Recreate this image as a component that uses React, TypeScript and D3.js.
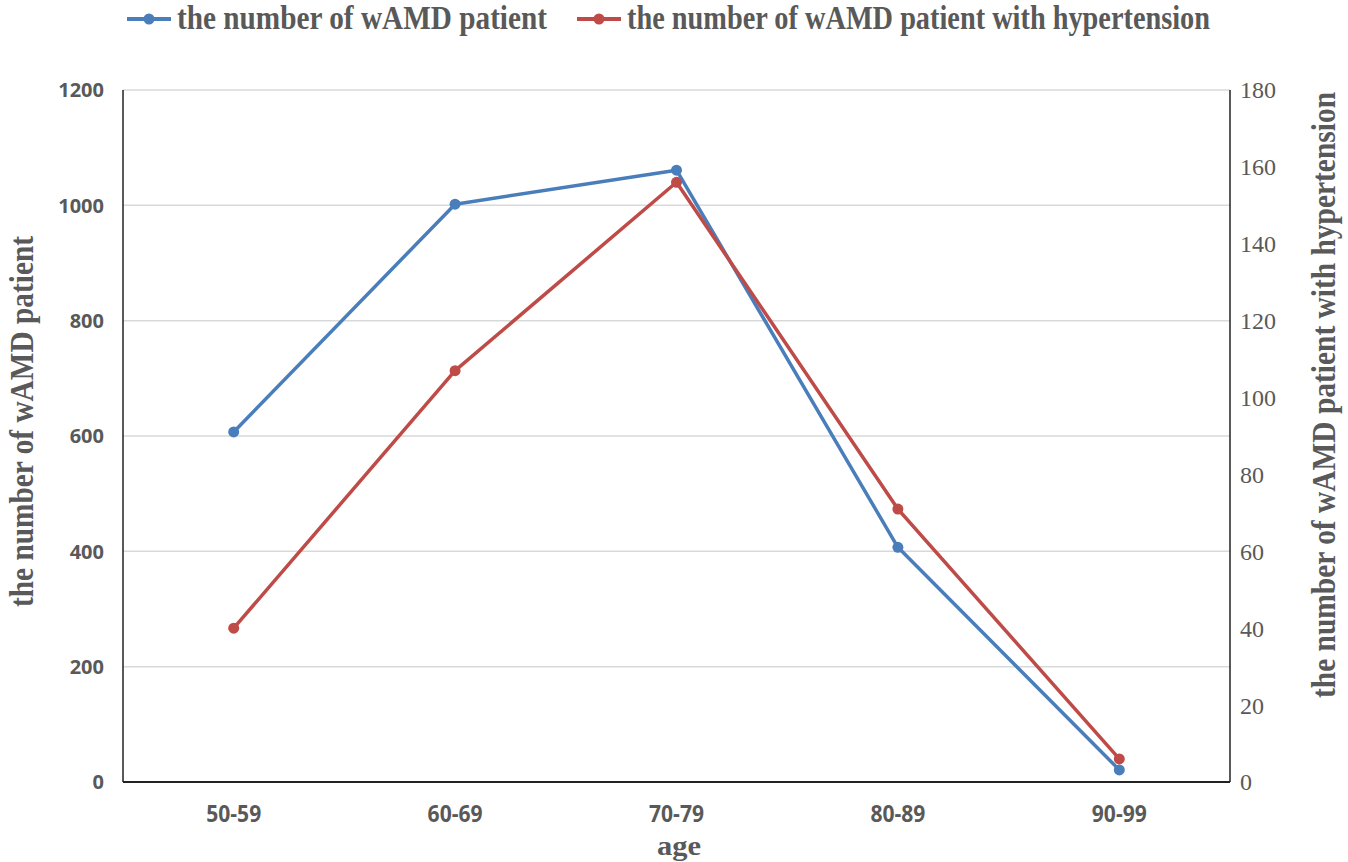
import { scaleLinear, scalePoint, line } from "d3";

const width = 1348;
const height = 862;

const ages = ["50-59", "60-69", "70-79", "80-89", "90-99"];
const patients = [607, 1002, 1061, 407, 21];
const hypertension = [40, 107, 156, 71, 6];
const leftTicks = [0, 200, 400, 600, 800, 1000, 1200];
const rightTicks = [0, 20, 40, 60, 80, 100, 120, 140, 160, 180];

const blue = "#4a7ebb";
const red = "#be4b48";
const gray = "#595959";

const plot = { left: 123, right: 1230, top: 90, bottom: 782 };

const serif = "'Liberation Serif', 'Times New Roman', serif";

const App = () => {
  const x = scalePoint<string>()
    .domain(ages)
    .range([plot.left, plot.right])
    .padding(0.5);
  const yLeft = scaleLinear().domain([0, 1200]).range([plot.bottom, plot.top]);
  const yRight = scaleLinear().domain([0, 180]).range([plot.bottom, plot.top]);

  const blueLine = line<number>()
    .x((_, i) => x(ages[i])!)
    .y((d) => yLeft(d));
  const redLine = line<number>()
    .x((_, i) => x(ages[i])!)
    .y((d) => yRight(d));

  const legend = [
    { label: "the number of wAMD patient", color: blue, x0: 127, tx: 177, tl: 370 },
    { label: "the number of wAMD patient with hypertension", color: red, x0: 577, tx: 627, tl: 583 },
  ];

  return (
    <svg
      width={width}
      height={height}
      style={{ position: "absolute", left: 0, top: 0, background: "#fff" }}
    >
      {/* gridlines */}
      {leftTicks.slice(1).map((t) => (
        <line
          key={t}
          x1={plot.left}
          x2={plot.right}
          y1={yLeft(t)}
          y2={yLeft(t)}
          stroke="#d9d9d9"
          strokeWidth={1.5}
        />
      ))}

      {/* axes */}
      <line x1={plot.left} x2={plot.left} y1={plot.top} y2={plot.bottom} stroke="#222" strokeWidth={1.5} />
      <line x1={plot.right} x2={plot.right} y1={plot.top} y2={plot.bottom} stroke="#222" strokeWidth={1.5} />
      <line x1={plot.left} x2={plot.right} y1={plot.bottom} y2={plot.bottom} stroke="#222" strokeWidth={2} />

      {/* left ticks */}
      {leftTicks.map((t) => (
        <text
          key={t}
          x={104}
          y={yLeft(t)}
          dy="0.36em"
          textAnchor="end"
          fontFamily="'Open Sans', sans-serif"
          fontWeight="bold"
          fontSize={20}
          fill={gray}
        >
          {t}
        </text>
      ))}

      {/* right ticks */}
      {rightTicks.map((t) => (
        <text
          key={t}
          x={1240}
          y={yRight(t)}
          dy="0.35em"
          fontFamily={serif}
          fontSize={24}
          fill={gray}
        >
          {t}
        </text>
      ))}

      {/* x ticks */}
      {ages.map((a) => (
        <text
          key={a}
          x={x(a)}
          y={814}
          dy="0.36em"
          textAnchor="middle"
          fontFamily="'Open Sans', sans-serif"
          fontWeight="bold"
          fontSize={23}
          fill={gray}
          textLength={55}
          lengthAdjust="spacingAndGlyphs"
        >
          {a}
        </text>
      ))}

      {/* axis titles */}
      <text
        x={679}
        y={855}
        textAnchor="middle"
        fontFamily={serif}
        fontWeight="bold"
        fontSize={28}
        fill={gray}
        textLength={44}
        lengthAdjust="spacingAndGlyphs"
      >
        age
      </text>
      <text
        transform={`translate(${33}, ${(236 + 607) / 2}) rotate(-90)`}
        textAnchor="middle"
        fontFamily={serif}
        fontWeight="bold"
        fontSize={33}
        fill={gray}
        textLength={371}
        lengthAdjust="spacingAndGlyphs"
      >
        the number of wAMD patient
      </text>
      <text
        transform={`translate(${1335}, ${(92 + 698) / 2}) rotate(-90)`}
        textAnchor="middle"
        fontFamily={serif}
        fontWeight="bold"
        fontSize={33}
        fill={gray}
        textLength={606}
        lengthAdjust="spacingAndGlyphs"
      >
        the number of wAMD patient with hypertension
      </text>

      {/* series */}
      <path d={blueLine(patients)!} fill="none" stroke={blue} strokeWidth={3.5} strokeLinejoin="round" />
      <path d={redLine(hypertension)!} fill="none" stroke={red} strokeWidth={3.5} strokeLinejoin="round" />
      {patients.map((v, i) => (
        <circle key={"b" + i} cx={x(ages[i])} cy={yLeft(v)} r={5.5} fill={blue} />
      ))}
      {hypertension.map((v, i) => (
        <circle key={"r" + i} cx={x(ages[i])} cy={yRight(v)} r={5.5} fill={red} />
      ))}

      {/* legend */}
      {legend.map((l) => (
        <g key={l.label}>
          <line x1={l.x0} x2={l.x0 + 44} y1={19} y2={19} stroke={l.color} strokeWidth={4} />
          <circle cx={l.x0 + 22} cy={19} r={5.5} fill={l.color} />
          <text
            x={l.tx}
            y={29}
            fontFamily={serif}
            fontWeight="bold"
            fontSize={34}
            fill={gray}
            textLength={l.tl}
            lengthAdjust="spacingAndGlyphs"
          >
            {l.label}
          </text>
        </g>
      ))}
    </svg>
  );
};

export default App;
